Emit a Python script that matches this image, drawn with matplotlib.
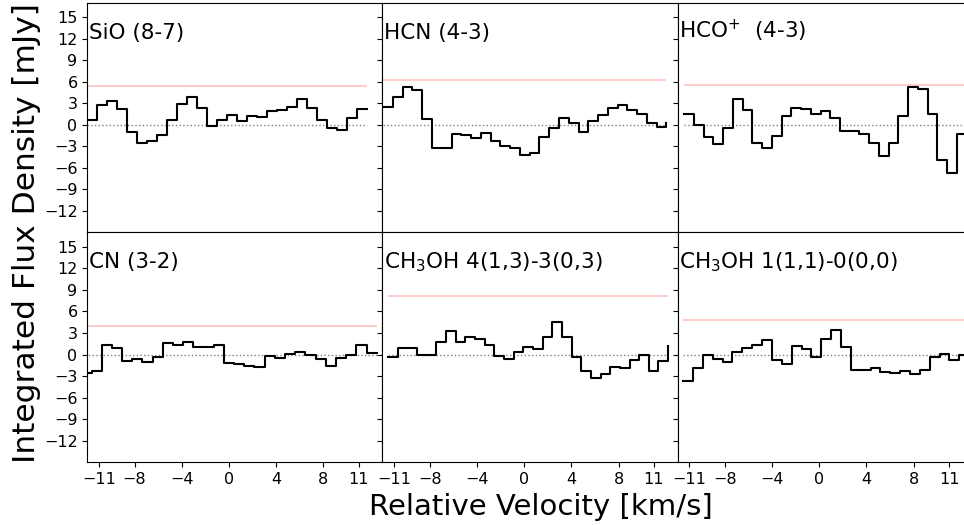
import numpy as np
import matplotlib
matplotlib.use("Agg")
import matplotlib.pyplot as plt

# line names, in panel order
names = ["SiO (8-7)", "HCN (4-3)", "HCO$^{+}$  (4-3)",
         "CN (3-2)", "CH$_3$OH 4(1,3)-3(0,3)", "CH$_3$OH 1(1,1)-0(0,0)"]

# channel velocities (km/s)
v_sio = [-12.05, -11.20, -10.36, -9.51, -8.66, -7.82, -6.97, -6.12, -5.27, -4.43,
         -3.58, -2.73, -1.89, -1.04, -0.19, 0.66, 1.50, 2.35, 3.20, 4.04,
         4.89, 5.74, 6.58, 7.43, 8.28, 9.13, 9.97, 10.82, 11.67]
v_hcn = [-11.95, -11.12, -10.29, -9.47, -8.64, -7.81, -6.98, -6.15, -5.33, -4.50,
         -3.67, -2.84, -2.01, -1.19, -0.36, 0.47, 1.30, 2.13, 2.95, 3.78,
         4.61, 5.44, 6.27, 7.09, 7.92, 8.75, 9.58, 10.41, 11.23, 12.06]
v_hco = [-11.44, -10.62, -9.79, -8.97, -8.14, -7.32, -6.49, -5.67, -4.84, -4.02,
         -3.19, -2.37, -1.54, -0.72, 0.11, 0.94, 1.76, 2.59, 3.41, 4.24,
         5.06, 5.89, 6.71, 7.54, 8.36, 9.19, 10.01, 10.84, 11.66, 12.49]
v_cn = [-12.50, -11.64, -10.78, -9.91, -9.05, -8.19, -7.33, -6.46, -5.60, -4.74,
        -3.88, -3.01, -2.15, -1.29, -0.43, 0.44, 1.30, 2.16, 3.03, 3.89,
        4.75, 5.61, 6.48, 7.34, 8.20, 9.06, 9.93, 10.79, 11.65, 12.51]
v_meth1 = [-11.52, -10.70, -9.88, -9.07, -8.25, -7.43, -6.61, -5.79, -4.98, -4.16,
           -3.34, -2.52, -1.70, -0.89, -0.07, 0.75, 1.57, 2.39, 3.20, 4.02,
           4.84, 5.66, 6.48, 7.29, 8.11, 8.93, 9.75, 10.57, 11.38, 12.20]
v_meth2 = [-11.52, -10.69, -9.85, -9.02, -8.18, -7.35, -6.51, -5.68, -4.84, -4.01,
           -3.17, -2.34, -1.50, -0.67, 0.17, 1.01, 1.84, 2.68, 3.51, 4.35,
           5.18, 6.02, 6.85, 7.69, 8.52, 9.36, 10.19, 11.03, 11.86, 12.70]

# integrated flux density (mJy)
f_sio = [0.6, 2.7, 3.3, 2.2, -1.0, -2.6, -2.2, -1.4, 0.7, 2.9,
         3.8, 2.3, -0.2, 0.7, 1.4, 0.5, 1.2, 1.1, 1.9, 2.0,
         2.5, 3.6, 2.4, 0.7, -0.4, -0.7, 1.0, 2.2, 2.2]
f_hcn = [2.5, 3.9, 5.2, 4.8, 0.8, -3.2, -3.3, -1.3, -1.4, -1.8,
         -1.2, -2.2, -3.0, -3.3, -4.2, -3.9, -1.7, -0.4, 0.9, 0.2,
         -1.0, 0.5, 1.3, 2.4, 2.8, 2.0, 1.5, 0.3, -0.3, 0.2]
f_hco = [1.5, -0.1, -1.7, -2.7, -0.5, 3.6, 2.1, -2.5, -3.3, -1.5,
         1.2, 2.4, 2.2, 1.5, 1.9, 1.0, -0.9, -0.9, -1.3, -2.5,
         -4.4, -2.5, 1.2, 5.2, 5.0, 1.5, -4.9, -6.7, -1.3, -1.3]
f_cn = [-2.6, -2.3, 1.3, 0.9, -0.9, -0.6, -1.1, -0.4, 1.6, 1.3,
        1.7, 1.0, 1.0, 1.4, -1.2, -1.3, -1.6, -1.7, -0.2, -0.5,
        0.1, 0.3, 0.0, -0.6, -1.6, -0.5, -0.1, 1.3, 0.2, 0.2]
f_meth1 = [-0.4, 0.9, 0.9, -0.1, -0.1, 1.8, 3.3, 1.7, 2.5, 2.2,
           1.3, -0.2, -0.6, 0.3, 1.1, 0.8, 2.4, 4.5, 2.5, -0.3,
           -2.3, -3.3, -2.7, -1.7, -1.9, -0.8, -0.1, -2.3, -0.9, 1.2]
f_meth2 = [-3.7, -1.9, -0.1, -0.6, -1.0, 0.4, 0.9, 1.3, 2.0, -0.7,
           -1.3, 1.2, 0.8, -0.3, 2.2, 3.4, 1.0, -2.2, -2.2, -1.8,
           -2.4, -2.6, -2.3, -2.7, -2.2, -0.4, 0.1, -0.8, -0.1, -0.1]

# 3 sigma levels
limits = [5.4, 6.2, 5.5, 3.95, 8.2, 4.8]

vels = [v_sio, v_hcn, v_hco, v_cn, v_meth1, v_meth2]
fluxes = [f_sio, f_hcn, f_hco, f_cn, f_meth1, f_meth2]

fig, axes = plt.subplots(2, 3, figsize=(9.64, 5.25), dpi=100, sharex=True, sharey=True)
fig.subplots_adjust(left=0.0906, right=1.009, bottom=0.1194, top=0.9949,
                    wspace=0, hspace=0)

for ax, name, v, f, lim in zip(axes.flat, names, vels, fluxes, limits):
    ax.hlines(0, v[0], v[-1], color="gray", linestyle=":", lw=1)
    ax.hlines(lim, v[0], v[-1], color="red", alpha=0.2, lw=1.5)
    ax.step(v, f, where="post", color="k", lw=1.5)
    ax.text(-11.85, 12, name, fontsize=15.5)
    ax.tick_params(labelsize=11.5)

ax = axes[0, 0]
ax.set_xlim(-12, 13)
ax.set_ylim(-15, 17)
ax.set_xticks([-11, -8, -4, 0, 4, 8, 11])
ax.set_yticks(np.arange(-12, 16, 3))

for ax in axes[0]:
    ax.tick_params(axis="x", bottom=False)

fig.text(0.561, 0.008, "Relative Velocity [km/s]", ha="center", va="bottom", fontsize=21)
fig.text(0.027, 0.557, "Integrated Flux Density [mJy]", ha="center", va="center",
         rotation=90, fontsize=22.5)

fig.savefig("out.png", dpi=100)
